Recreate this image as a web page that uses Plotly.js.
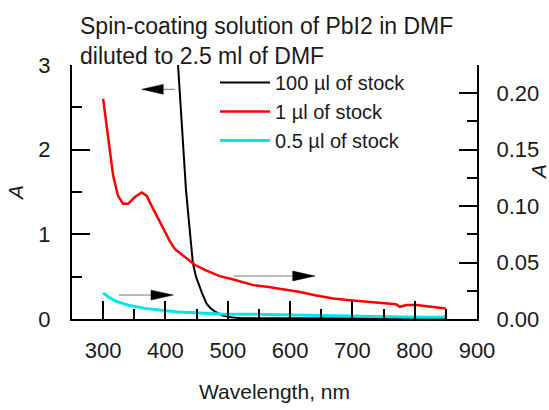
<!DOCTYPE html>
<html>
<head>
<meta charset="utf-8">
<script src="https://cdn.plot.ly/plotly-3.0.1.min.js"></script>
<style>html,body{margin:0;padding:0;background:#fff;}#chart{width:549px;height:410px;}</style>
</head>
<body>
<div id="chart"></div>
<script>
// 100 µl of stock (left axis)
var blackX = [419.3, 426.5, 433, 440.5, 444, 449, 455, 459, 466, 472, 479, 492, 505, 520, 560, 650, 750, 850];
var blackY = [3.1, 2.27, 1.52, 0.93, 0.66, 0.50, 0.37, 0.30, 0.18, 0.13, 0.09, 0.04, 0.02, 0.01, 0.008, 0.006, 0.005, 0.005];
// 1 µl of stock (right axis)
var redX = [300, 305.6, 311, 316, 324, 332, 340, 351, 362, 370, 378, 388, 399, 407, 415, 431, 447, 465, 487, 509, 541, 563, 590, 616, 640, 669, 696, 728, 760, 770, 776, 787, 803, 815, 825, 840, 850];
var redY = [0.195, 0.171, 0.147, 0.127, 0.109, 0.102, 0.102, 0.108, 0.112, 0.109, 0.100, 0.089, 0.077, 0.069, 0.062, 0.055, 0.048, 0.043, 0.038, 0.035, 0.030, 0.0285, 0.026, 0.024, 0.021, 0.0182, 0.0167, 0.0153, 0.0138, 0.013, 0.0108, 0.0123, 0.0123, 0.0115, 0.0108, 0.010, 0.0094];
// 0.5 µl of stock (right axis)
var cyanX = [300, 308, 319, 340, 367, 394, 420, 447, 470, 490, 540, 600, 660, 720, 780, 830, 848, 850];
var cyanY = [0.0232, 0.0197, 0.0161, 0.0123, 0.0094, 0.0075, 0.0062, 0.0055, 0.005, 0.0045, 0.0042, 0.0035, 0.0028, 0.0022, 0.0017, 0.0016, 0.0018, 0.003];
var seriesNames = ['100 µl of stock', '1 µl of stock', '0.5 µl of stock'];
var titleLines = ['Spin-coating solution of PbI2 in DMF', 'diluted to 2.5 ml of DMF'];
// arrow annotations: tail x, head-base x, tip x, y (left-axis units)
var arrowTail = [415.3, 508.9, 325.4];
var arrowBase = [396.5, 604.2, 376.8];
var arrowTip = [361.9, 640.0, 412.6];
var arrowY = [2.713, 0.508, 0.283];
var arrowHalf = 0.058;

var FONT = 'Liberation Sans, Arial, sans-serif';
var txt = '#1a1a1a';

var traces = [
  {x: blackX, y: blackY, name: seriesNames[0], mode: 'lines', line: {color: '#000000', width: 2}, yaxis: 'y'},
  {x: redX, y: redY, name: seriesNames[1], mode: 'lines', line: {color: '#ff0000', width: 2.5}, yaxis: 'y2'},
  {x: cyanX, y: cyanY, name: seriesNames[2], mode: 'lines', line: {color: '#00e5ee', width: 3}, yaxis: 'y2'}
];

var shapes = [];
for (var i = 0; i < arrowTip.length; i++) {
  shapes.push({type: 'line', xref: 'x', yref: 'y', x0: arrowTail[i], x1: arrowBase[i], y0: arrowY[i], y1: arrowY[i], line: {color: '#777777', width: 1}});
  shapes.push({type: 'path', xref: 'x', yref: 'y',
    path: 'M' + arrowTip[i] + ',' + arrowY[i] + ' L' + arrowBase[i] + ',' + (arrowY[i] + arrowHalf) + ' L' + arrowBase[i] + ',' + (arrowY[i] - arrowHalf) + ' Z',
    fillcolor: '#000000', line: {color: '#000000', width: 0.5}});
}

var tickCommon = {
  ticks: 'inside', ticklen: 18, tickwidth: 2, tickcolor: '#000',
  showline: true, linewidth: 2, linecolor: '#000', showgrid: false, zeroline: false,
  tickfont: {family: FONT, size: 22, color: txt}
};

var layout = {
  width: 549, height: 410,
  margin: {l: 72, r: 72, t: 65, b: 91},
  paper_bgcolor: '#fff', plot_bgcolor: '#fff',
  font: {family: FONT, size: 20, color: txt},
  title: {text: titleLines.join('<br>'), x: 80 / 549, xanchor: 'left', xref: 'container', y: 1 - 34 / 410, yanchor: 'middle', yref: 'container', font: {family: FONT, size: 23, color: txt}},
  xaxis: Object.assign({}, tickCommon, {range: [250, 900], dtick: 100, tick0: 0,
    minor: {ticks: 'inside', ticklen: 10, tickwidth: 2, tickcolor: '#000', dtick: 50},
    ticklabelstandoff: 11,
    title: {text: 'Wavelength, nm', standoff: 22, font: {family: FONT, size: 21, color: txt}}}),
  yaxis: Object.assign({}, tickCommon, {range: [0, 3], dtick: 1, tick0: 0,
    minor: {ticks: 'inside', ticklen: 10, tickwidth: 2, tickcolor: '#000', dtick: 0.5},
    ticklabelstandoff: 15,
    title: {text: '<i>A</i>', standoff: 9, font: {family: FONT, size: 21, color: txt}}}),
  yaxis2: Object.assign({}, tickCommon, {range: [0, 0.225], dtick: 0.05, tick0: 0, tickformat: '.2f',
    overlaying: 'y', side: 'right',
    minor: {ticks: 'inside', ticklen: 10, tickwidth: 2, tickcolor: '#000', dtick: 0.025},
    ticklabelstandoff: 13}),
  annotations: [{text: '<i>A</i>', xref: 'paper', yref: 'paper', x: (538 - 72) / 405, y: (319 - 172) / 254,
    xanchor: 'center', yanchor: 'middle', textangle: -90, showarrow: false, font: {family: FONT, size: 21, color: txt}}],
  showlegend: true,
  legend: {x: (215 - 72) / 405, y: 1 - (63 - 65) / 254, xanchor: 'left', yanchor: 'top', bgcolor: 'rgba(0,0,0,0)', borderwidth: 0,
    itemwidth: 50, font: {family: FONT, size: 20, color: txt}},
  shapes: shapes
};

Plotly.newPlot('chart', traces, layout, {displayModeBar: false, staticPlot: true});
</script>
</body>
</html>
